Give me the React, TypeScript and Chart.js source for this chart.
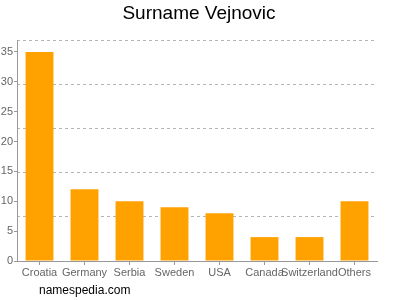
import React, { useEffect, useRef } from "react";
import { Chart, registerables } from "chart.js";

Chart.register(...registerables);

const categories = ["Croatia", "Germany", "Serbia", "Sweden", "USA", "Canada", "Switzerland", "Others"];
const counts = [35, 12, 10, 9, 8, 4, 4, 10];
const yTickValues = [0, 5, 10, 15, 20, 25, 30, 35];
const titleText = "Surname Vejnovic";
const footerText = "namespedia.com";

const FONT = "'Liberation Sans', Arial, sans-serif";

const textPlugin = {
  id: "texts",
  afterDraw(chart: any) {
    const ctx = chart.ctx;
    ctx.save();
    ctx.fillStyle = "#000";
    ctx.font = `19px ${FONT}`;
    ctx.textAlign = "center";
    ctx.textBaseline = "middle";
    ctx.fillText(titleText, 199, 14);
    ctx.font = `12px ${FONT}`;
    ctx.textAlign = "left";
    ctx.fillText(footerText, 39, 291);
    ctx.restore();
  },
};

export default function App() {
  const ref = useRef<HTMLCanvasElement>(null);
  useEffect(() => {
    if (!ref.current) return;
    const chart = new Chart(ref.current, {
      type: "bar",
      data: {
        labels: categories,
        datasets: [
          {
            data: counts,
            backgroundColor: "#ffa200",
            borderWidth: 0,
            barPercentage: 0.62,
            categoryPercentage: 1,
            yAxisID: "y",
          },
        ],
      },
      options: {
        animation: false,
        responsive: false,
        maintainAspectRatio: false,
        layout: { padding: { top: 40, right: 23, bottom: 0, left: 0 } },
        plugins: { legend: { display: false }, title: { display: false }, tooltip: { enabled: false } },
        scales: {
          x: {
            grid: { display: true, drawOnChartArea: false, offset: false, tickLength: 4, color: "#999" },
            border: { color: "#999" },
            ticks: { color: "#666", font: { size: 11, family: FONT }, padding: 1, maxRotation: 0, autoSkip: false },
            afterFit: (s: any) => { s.height = 39; },
          },
          y: {
            position: "left",
            min: 0,
            max: 37,
            afterBuildTicks: (s: any) => { s.ticks = yTickValues.map((v) => ({ value: v })); },
            grid: { display: true, drawOnChartArea: false, tickLength: 3, color: "#999" },
            border: { color: "#999" },
            ticks: { color: "#666", font: { size: 11, family: FONT }, padding: 1 },
            afterFit: (s: any) => { s.width = 17; },
          },
          y2: {
            position: "left",
            min: 0,
            max: 5,
            ticks: { display: false, stepSize: 1 },
            grid: { display: true, drawTicks: false, color: "#b4b4b4", lineWidth: 1 },
            border: { display: false, dash: [3, 3] },
            afterFit: (s: any) => { s.width = 0; },
          },
        },
      },
      plugins: [textPlugin],
    });
    return () => chart.destroy();
  }, []);
  return (
    <div style={{ position: "fixed", left: 0, top: 0, width: 400, height: 300, background: "#fff" }}>
      <canvas ref={ref} width={400} height={300} />
    </div>
  );
}
